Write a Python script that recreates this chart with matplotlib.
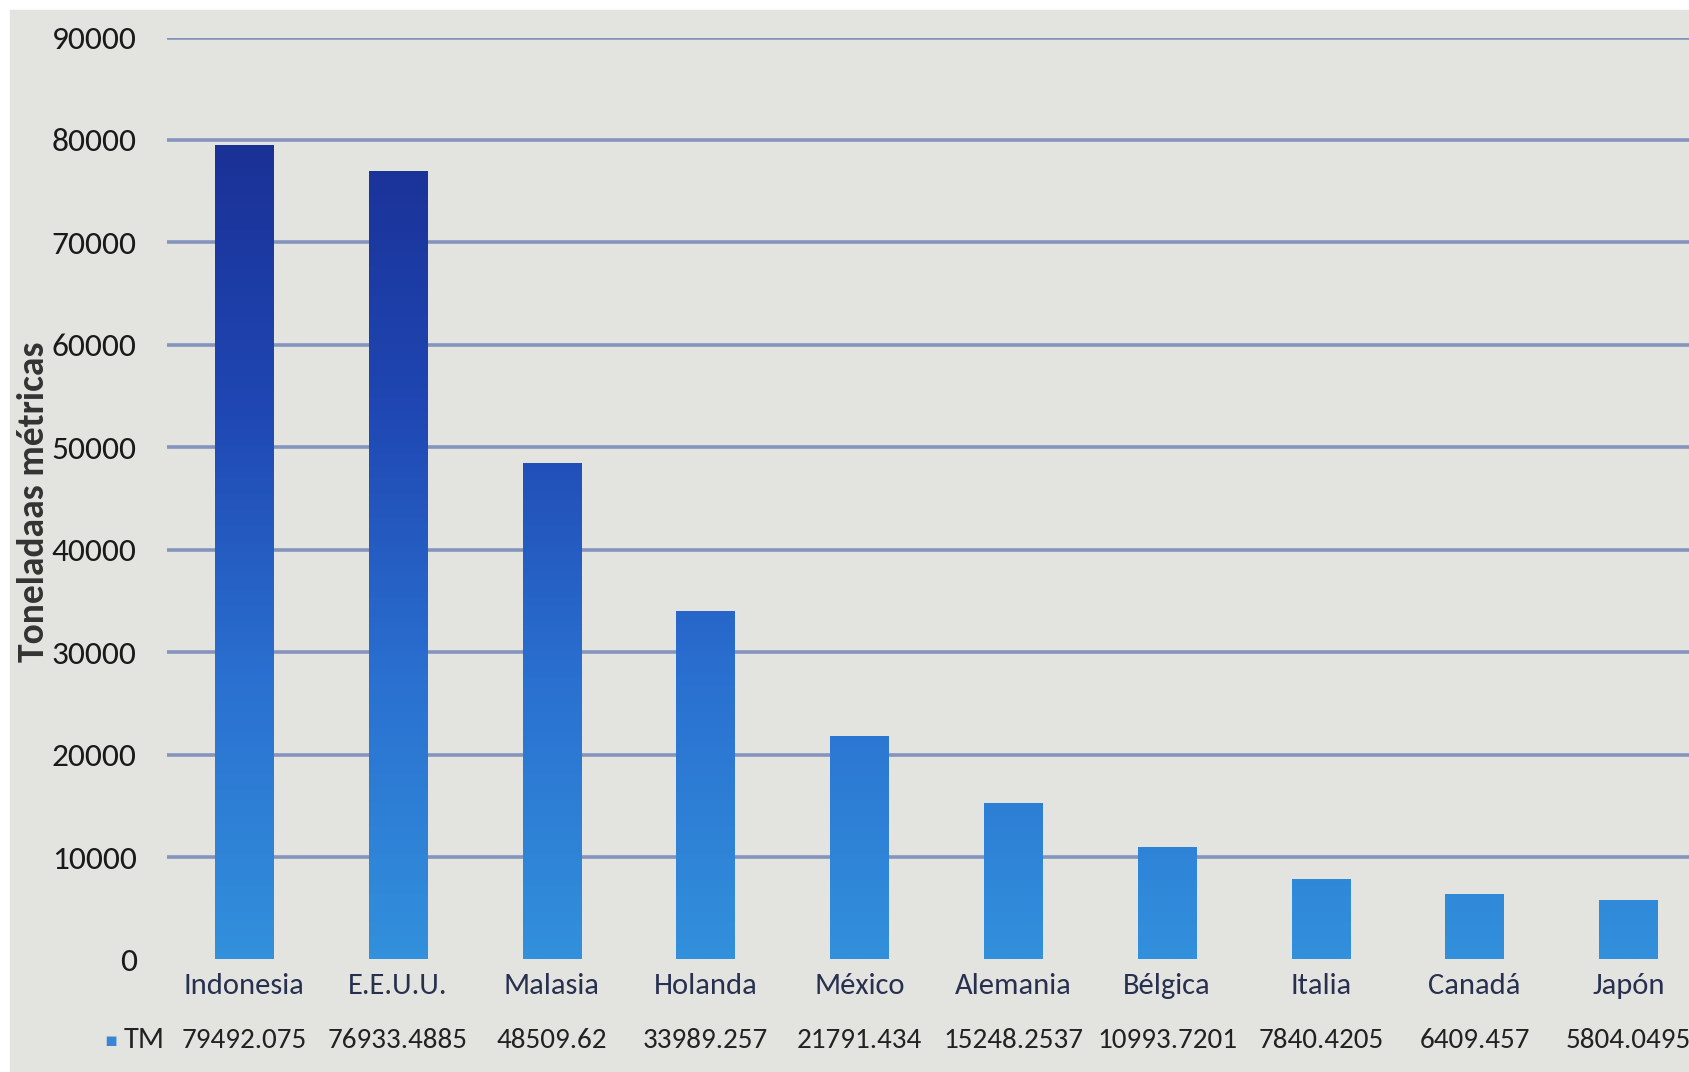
import matplotlib.pyplot as plt
import numpy as np
from matplotlib import font_manager
from matplotlib.colors import LinearSegmentedColormap, Normalize
from matplotlib.patches import Rectangle

paises = ["Indonesia", "E.E.U.U.", "Malasia", "Holanda", "México",
          "Alemania", "Bélgica", "Italia", "Canadá", "Japón"]
tm = [79492.075, 76933.4885, 48509.62, 33989.257, 21791.434,
      15248.2537, 10993.7201, 7840.4205, 6409.457, 5804.0495]
tm_labels = ["79492.075", "76933.4885", "48509.62", "33989.257", "21791.434",
             "15248.2537", "10993.7201", "7840.4205", "6409.457", "5804.0495"]
yticks = [0, 10000, 20000, 30000, 40000, 50000, 60000, 70000, 80000, 90000]

# Calibri-like face if present
installed = {f.name for f in font_manager.fontManager.ttflist}
base = next((f for f in ["Carlito", "Liberation Sans Narrow", "Roboto Condensed",
                         "Open Sans Condensed"] if f in installed), "DejaVu Sans")
plt.rcParams["font.family"] = [base, "DejaVu Sans"]

fig = plt.figure(figsize=(16.9, 10.72), dpi=100, facecolor="white")
fig.patches.append(Rectangle((10 / 1690, 0), 1, 1 - 10 / 1072,
                             transform=fig.transFigure, color="#e3e3df",
                             zorder=-10))
ax = fig.add_axes([0.099, 0.105, 0.901, 0.86])
ax.set_facecolor("none")

# vertical gradient: light blue at the base, navy towards the top
cmap = LinearSegmentedColormap.from_list(
    "azul", ["#3290dc", "#2a70d0", "#1f46b2", "#1a2f94"], N=256)
norm = Normalize(0, 82000)

x = np.arange(len(paises))
bars = ax.bar(x, tm, width=0.38, color="none", zorder=3)
for b in bars:
    x0, y0 = b.get_x(), b.get_y()
    w, h = b.get_width(), b.get_height()
    grad = np.linspace(y0, y0 + h, 256).reshape(-1, 1)
    im = ax.imshow(grad, cmap=cmap, norm=norm, origin="lower", aspect="auto",
                   extent=[x0, x0 + w, y0, y0 + h], zorder=3)
    im.set_clip_path(b)

ax.set_xlim(-0.5, 9.4)
ax.set_ylim(0, 90000)
ax.set_yticks(yticks)
ax.set_yticklabels([str(v) for v in yticks], fontsize=24, color="#1a1a1a")
ax.tick_params(axis="y", length=0, pad=22)
ax.set_xticks(x)
ax.set_xticklabels(paises, fontsize=22, color="#283050")
ax.tick_params(axis="x", length=0, pad=10)
for v in yticks[1:]:
    ax.axhline(v, color="#8494bc", lw=2.6, zorder=1)
for s in ax.spines.values():
    s.set_visible(False)

# data table row under the category labels
for xi, lab in zip(x, tm_labels):
    ax.text(xi, -0.088, lab, transform=ax.get_xaxis_transform(),
            ha="center", va="center", fontsize=21, color="#222222")
fig.text(111 / 1690, 1 - 1040 / 1072, "\u25aa", fontsize=14, color="#3a86d6",
         ha="center", va="center", family=["DejaVu Sans"])
fig.text(124 / 1690, 1 - 1040 / 1072, "TM", fontsize=22, color="#222222",
         ha="left", va="center")

fig.text(0.0200, 0.532, "Toneladaas métricas", rotation=90, fontsize=27,
         fontweight="bold", color="#333333", ha="center", va="center")

fig.savefig("out.png", dpi=100, facecolor=fig.get_facecolor())
